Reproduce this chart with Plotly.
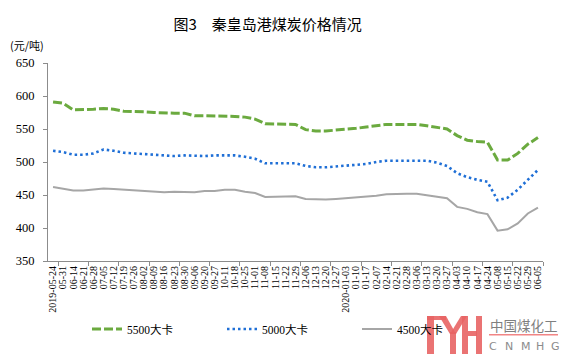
import plotly.graph_objects as go

dates = ["2019-05-24","05-31","06-14","06-21","06-28","07-05","07-12","07-19","07-26",
         "08-02","08-09","08-16","08-23","08-30","09-06","09-20","09-27","10-11","10-18",
         "10-25","11-01","11-08","11-15","11-22","11-29","12-06","12-13","12-20","12-27",
         "2020-01-03","01-10","01-17","02-07","02-14","02-21","02-28","03-06","03-13",
         "03-20","03-27","04-03","04-10","04-17","04-24","05-08","05-15","05-22","05-29","06-05"]

kcal5500 = [591,589,579,579,580,581,580,577,577,576,575,574,574,574,570,570,570,570,569,568,
            565,558,558,558,557,549,547,547,548,550,551,553,555,557,557,557,557,555,552,550,
            540,533,531,530,503,503,513,527,537]
kcal5000 = [517,515,511,511,513,519,517,514,513,512,511,509,509,510,509,509,510,510,510,508,
            505,498,498,499,498,494,492,492,493,494,495,497,500,502,502,502,502,502,499,494,
            483,477,473,470,442,446,458,473,488]
kcal4500 = [462,459,457,457,458,460,459,458,456,455,454,454,455,455,454,456,456,458,458,455,
            453,447,447,448,448,444,443,443,444,445,446,447,449,451,452,452,452,450,448,445,
            432,429,424,421,396,398,407,422,431]

series_names = ["5500大卡", "5000大卡", "4500大卡"]
y_ticks = [350, 400, 450, 500, 550, 600, 650]

W, H = 561, 357
L, R, T, B = 48, 18, 63, 96
PW, PH = W - L - R, H - T - B

def px(x):
    return (x - L) / PW

def py(y):
    return (H - B - y) / PH

serif = "Liberation Serif, Times New Roman, Noto Sans CJK SC, serif"
cjk = "Noto Sans CJK SC, sans-serif"

fig = go.Figure()
fig.add_trace(go.Scatter(x=dates, y=kcal5500, name=series_names[0], mode="lines",
                         line=dict(color="#6BAA3F", width=3, dash="9px,3px")))
fig.add_trace(go.Scatter(x=dates, y=kcal5000, name=series_names[1], mode="lines",
                         line=dict(color="#1F6FD6", width=2.6, dash="2.5px,3px")))
fig.add_trace(go.Scatter(x=dates, y=kcal4500, name=series_names[2], mode="lines",
                         line=dict(color="#A6A6A6", width=2)))
# helper trace for tick axis
fig.add_trace(go.Scatter(x=[0], y=[None], xaxis="x2", showlegend=False, hoverinfo="skip"))

n = len(dates)
tickpos = [i + 0.5 for i in range(0, n, 3)]

fig.update_layout(
    width=W, height=H,
    margin=dict(l=L, r=R, t=T, b=B),
    paper_bgcolor="white", plot_bgcolor="white",
    title=dict(text="图3　秦皇岛港煤炭价格情况", x=0.477, xref="container", xanchor="center",
               y=1 - 25 / H, yref="container", yanchor="middle",
               font=dict(family=cjk, size=15, color="#000")),
    xaxis=dict(type="category", range=[-0.5, n - 0.5], showgrid=False, zeroline=False,
               showline=True, linecolor="#8C8C8C", linewidth=1, ticks="",
               tickmode="array", tickvals=dates, ticktext=dates,
               tickangle=-90, tickfont=dict(family=serif, size=10, color="#000")),
    xaxis2=dict(overlaying="x", anchor="y", side="bottom", range=[-0.5, n - 0.5],
                tickmode="array", tickvals=tickpos, ticks="outside", ticklen=4,
                tickcolor="#8C8C8C", showticklabels=False, showgrid=False,
                zeroline=False, showline=False),
    yaxis=dict(range=[350, 650], tickvals=y_ticks, showgrid=False, zeroline=False,
               showline=True, linecolor="#8C8C8C", linewidth=1, ticks="outside",
               ticklen=4, tickcolor="#8C8C8C", ticklabelstandoff=6,
               tickfont=dict(family=serif, size=12.5, color="#000")),
    legend=dict(orientation="h", x=px(87), xanchor="left", y=py(329), yanchor="middle",
                font=dict(family=serif, size=11.5, color="#000"),
                entrywidth=90, entrywidthmode="pixels", bgcolor="rgba(0,0,0,0)"),
    showlegend=True,
)

fig.add_annotation(text="(元/吨)", xref="paper", yref="paper", x=px(8), y=py(45),
                   xanchor="left", yanchor="middle", showarrow=False,
                   font=dict(family=cjk, size=11, color="#000"))

# watermark logo
logo_color = "rgba(232,100,100,0.9)"
def rect(x0, y0, x1, y1, color=logo_color):
    fig.add_shape(type="rect", xref="paper", yref="paper", x0=px(x0), x1=px(x1),
                  y0=py(y0), y1=py(y1), fillcolor=color, line=dict(width=0), layer="above")

def poly(points, color=logo_color):
    d = "M " + " L ".join(f"{px(a):.5f},{py(b):.5f}" for a, b in points) + " Z"
    fig.add_shape(type="path", xref="paper", yref="paper", path=d, fillcolor=color,
                  line=dict(width=0), layer="above")

rect(427, 316, 434, 354)
rect(427, 316, 446, 320)
poly([(439, 316), (446, 316), (456, 334), (450, 334)])
poly([(461, 316), (467, 316), (456, 334), (450, 334)])
rect(450, 332, 456, 354)
rect(462, 316, 468, 354)
rect(468, 331, 477, 336)
rect(476, 316, 482, 354)
rect(489, 334, 558, 335.5, "rgba(240,120,120,0.9)")

fig.add_annotation(text="中国煤化工", xref="paper", yref="paper", x=px(523.5), y=py(325),
                   xanchor="center", yanchor="middle", showarrow=False,
                   font=dict(family=cjk, size=13.5, color="#7F7F7F"))
for ch, cx in zip("CNMHG", [492.5, 509, 525.5, 540, 555]):
    fig.add_annotation(text=ch, xref="paper", yref="paper", x=px(cx), y=py(346),
                       xanchor="center", yanchor="middle", showarrow=False,
                       font=dict(family="DejaVu Sans, sans-serif", size=11, color="#8C8C8C"))

fig.write_html("out.html", config={"displayModeBar": False},
               post_script="document.body.style.margin='0';")
